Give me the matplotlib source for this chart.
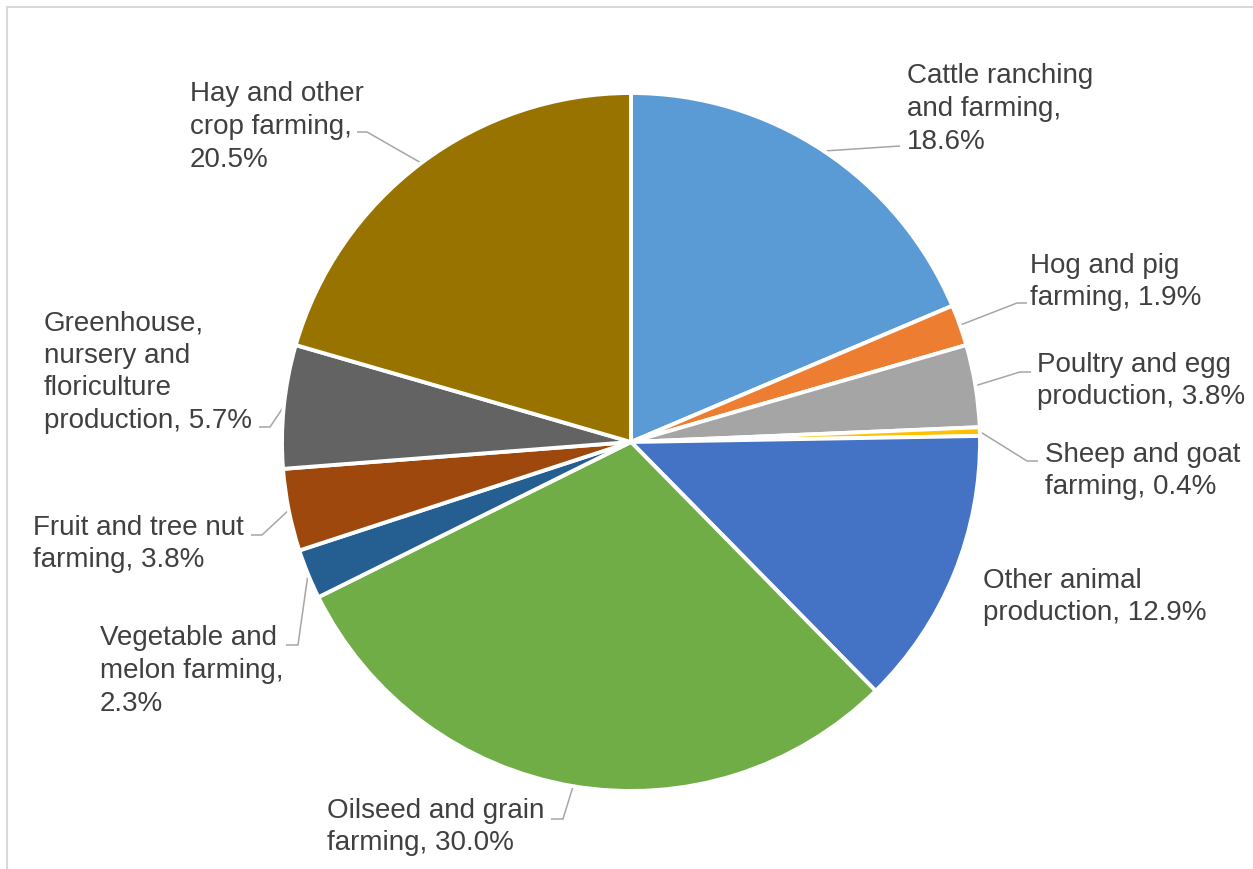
import numpy as np
import matplotlib
matplotlib.use("Agg")
import matplotlib.pyplot as plt
from matplotlib.patches import Rectangle

# ---- data ----
categories = [
    "Cattle ranching\nand farming,",
    "Hog and pig\nfarming,",
    "Poultry and egg\nproduction,",
    "Sheep and goat\nfarming,",
    "Other animal\nproduction,",
    "Oilseed and grain\nfarming,",
    "Vegetable and\nmelon farming,",
    "Fruit and tree nut\nfarming,",
    "Greenhouse,\nnursery and\nfloriculture\nproduction,",
    "Hay and other\ncrop farming,",
]
shares = [18.6, 1.9, 3.8, 0.4, 12.9, 30.0, 2.3, 3.8, 5.7, 20.5]
colors = ["#5B9BD5", "#ED7D31", "#A5A5A5", "#FFC000", "#4472C4",
          "#70AD47", "#255E91", "#9E480E", "#636363", "#997300"]
# separator between name and value: newline or space
value_sep = ["\n", " ", " ", " ", " ", " ", "\n", " ", " ", "\n"]

# ---- layout (pixel coordinates, y down) ----
W, H = 1253, 869
center_px = (631, 442)
radius_px = 349
label_left = [907, 1030, 1037, 1045, 983, 327, 100, 33, 44, 190]
label_mid = [109, 282, 381, 471, 597, 827, 671, 544, 372, 127]
elbow = [(900, 146), (1017, 303), (1020, 372), (1027, 461), None,
         (563, 819), (298, 645), (262, 535), (270, 427), (367, 132)]
leader_end_x = [900, 1027, 1031, 1038, None, 551, 286, 251, 259, 357]

plt.rcParams["font.family"] = ["Liberation Sans", "DejaVu Sans"]
text_color = "#404040"
leader_color = "#A6A6A6"

fig = plt.figure(figsize=(W / 100, H / 100), dpi=100)
ax = fig.add_axes([0, 0, 1, 1])

def Y(py):
    return H - py

cx, cy = center_px[0], Y(center_px[1])
wedges, _ = ax.pie(shares, colors=colors, startangle=90, counterclock=False,
                   center=(cx, cy), radius=radius_px,
                   wedgeprops=dict(edgecolor="white", linewidth=2.8))

ax.set_xlim(0, W)
ax.set_ylim(0, H)
ax.set_aspect("equal")
ax.axis("off")

for i, w in enumerate(wedges):
    label = f"{categories[i]}{value_sep[i]}{shares[i]:.1f}%"
    ax.text(label_left[i], Y(label_mid[i]), label, ha="left", va="center",
            fontsize=20, color=text_color, linespacing=1.33)
    if elbow[i] is not None:
        mid = np.deg2rad((w.theta1 + w.theta2) / 2)
        sx = cx + radius_px * np.cos(mid)
        sy = cy + radius_px * np.sin(mid)
        ex, ey = elbow[i]
        xs = [sx, ex, leader_end_x[i]]
        ys = [sy, Y(ey), Y(ey)]
        ax.plot(xs, ys, color=leader_color, linewidth=1.1,
                solid_capstyle="butt", zorder=0.5)

# chart frame (extends past right/bottom edge as in the reference)
fig.patches.append(Rectangle((7 / W, -0.05), 1.1, (H - 7) / H + 0.05,
                             transform=fig.transFigure, fill=False,
                             edgecolor="#D9D9D9", linewidth=1.5))

fig.savefig("out.png", dpi=100, facecolor="white")
